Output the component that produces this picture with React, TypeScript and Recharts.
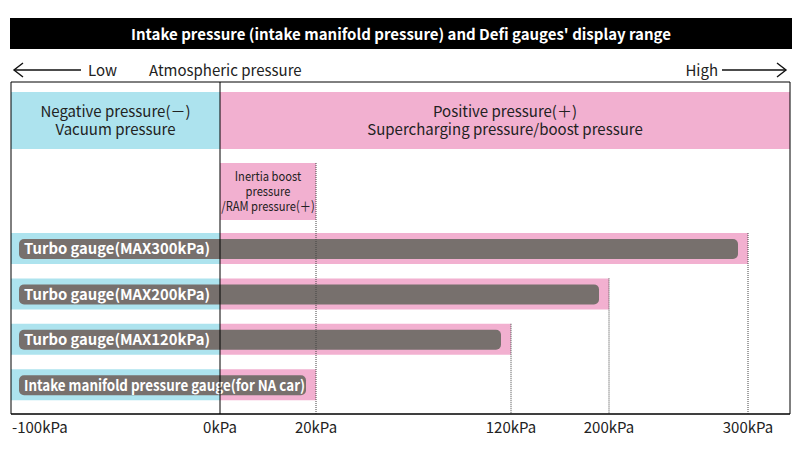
import { ComposedChart, ReferenceArea, ReferenceLine, XAxis, YAxis } from "recharts";

const FONT = '"Noto Sans CJK JP", "Noto Sans", sans-serif';
const CYAN = "#ade3ee";
const PINK = "#f2b0d0";
const GREY = "#77706d";

// the x axis is broken: each kPa stop gets its own share of the plot width
const kpaStops = [-100, 0, 20, 120, 200, 300, 330];
const axisStops = [0, 209, 305, 500, 598, 737, 779];

const tickKpa = [-100, 0, 20, 120, 200, 300];
const tickLabels = ["-100kPa", "0kPa", "20kPa", "120kPa", "200kPa", "300kPa"];

const regionLines = [
  ["Negative pressure(－)", "Vacuum pressure"],
  ["Positive pressure(＋)", "Supercharging pressure/boost pressure"],
];
const regionFrom = [-100, 0];
const regionTo = [0, 330];
const regionFill = [CYAN, PINK];

const ramLines = ["Inertia boost", "pressure", "/RAM pressure(＋)"];
const ramFrom = 0;
const ramTo = 20;

const gaugeNames = [
  "Turbo gauge(MAX300kPa)",
  "Turbo gauge(MAX200kPa)",
  "Turbo gauge(MAX120kPa)",
  "Intake manifold pressure gauge(for NA car)",
];
const gaugeMin = [-100, -100, -100, -100];
const gaugeMax = [300, 200, 120, 20];

// vertical layout of the rows (y axis units, top = 0)
const Y_MAX = 332;
const REGION_TOP = 10;
const REGION_H = 57;
const RAM_TOP = 81;
const RAM_H = 57;
const GAUGE_TOP = 151;
const GAUGE_PITCH = 45.4;
const GAUGE_H = 31;

function toAxis(kpa: number) {
  for (let i = 1; i < kpaStops.length; i++) {
    if (kpa <= kpaStops[i]) {
      const t = (kpa - kpaStops[i - 1]) / (kpaStops[i] - kpaStops[i - 1]);
      return axisStops[i - 1] + t * (axisStops[i] - axisStops[i - 1]);
    }
  }
  return axisStops[axisStops.length - 1];
}

const ticks = tickKpa.map(toAxis);

function TickLabel(props: any) {
  const { x, payload } = props;
  const i = ticks.indexOf(payload.value);
  return (
    <text
      x={i === 0 ? x + 1 : x}
      y={433}
      textAnchor={i === 0 ? "start" : "middle"}
      fontFamily={FONT}
      fontSize={15}
      fill="#222"
    >
      {tickLabels[i]}
    </text>
  );
}

function centeredLines(lines: string[], fontSize: number, lineH: number, squeeze = 1) {
  return (p: any) => {
    const cx = p.x + p.width / 2;
    const cy = p.y + p.height / 2;
    const first = cy - ((lines.length - 1) * lineH) / 2 + fontSize * 0.36;
    return (
      <g>
        <rect x={p.x} y={p.y} width={p.width} height={p.height} fill={p.fill} />
        <text
          textAnchor="middle"
          fontFamily={FONT}
          fontSize={fontSize}
          fill="#222"
          transform={`translate(${cx} 0) scale(${squeeze} 1) translate(${-cx} 0)`}
        >
          {lines.map((l, k) => (
            <tspan key={k} x={cx} y={first + k * lineH}>
              {l}
            </tspan>
          ))}
        </text>
      </g>
    );
  };
}

function gaugeShape(name: string) {
  return (p: any) => {
    const x = p.x + 8;
    const y = p.y + 6;
    const w = p.width - 18;
    const h = p.height - 11;
    const fs = 14.8;
    // rough width estimate; squeeze the label when it would run past the bar
    const tooLong = name.length * 0.47 * fs > w - 6;
    return (
      <g>
        <rect x={x} y={y} width={w} height={h} rx={5} ry={5} fill={GREY} />
        <text
          x={x + 5}
          y={y + h / 2 + 5.3}
          fontFamily={FONT}
          fontSize={fs}
          fontWeight={700}
          fill="#fff"
          textLength={tooLong ? w - 6 : undefined}
          lengthAdjust="spacingAndGlyphs"
        >
          {name}
        </text>
      </g>
    );
  };
}

// dotted guides drop from the first row that ends at a value
const guideTops = new Map<number, number>();
guideTops.set(ramTo, RAM_TOP);
gaugeMax.forEach((m, i) => {
  const top = GAUGE_TOP + i * GAUGE_PITCH;
  if (!guideTops.has(m) || (guideTops.get(m) as number) > top) guideTops.set(m, top);
});

export default function App() {
  return (
    <div style={{ position: "relative", width: 800, height: 450, background: "#fff", fontFamily: FONT }}>
      <style>{"body{margin:0}"}</style>
      <div
        style={{
          position: "absolute",
          left: 10,
          top: 18,
          width: 782,
          height: 31,
          background: "#000",
          color: "#fff",
          fontWeight: 700,
          fontSize: 15,
          lineHeight: "31px",
          textAlign: "center",
        }}
      >
        Intake pressure (intake manifold pressure) and Defi gauges' display range
      </div>
      <svg style={{ position: "absolute", left: 0, top: 0 }} width={800} height={82}>
        <g stroke="#111" strokeWidth={1.4} fill="none">
          <line x1={14} y1={70} x2={81} y2={70} />
          <polyline points="23,63 14,70 23,77" />
          <line x1={722} y1={70} x2={786} y2={70} />
          <polyline points="777,63 786,70 777,77" />
        </g>
        <g fontFamily={FONT} fontSize={15} fill="#222">
          <text x={88} y={76}>Low</text>
          <text x={149} y={76}>Atmospheric pressure</text>
          <text x={718} y={76} textAnchor="end">High</text>
        </g>
      </svg>
      <div style={{ position: "absolute", left: 0, top: 0 }}>
        <ComposedChart width={800} height={450} data={[]} margin={{ top: 82, right: 10, bottom: 6, left: 11 }}>
          <XAxis
            type="number"
            dataKey="x"
            height={30}
            domain={[0, axisStops[axisStops.length - 1]]}
            ticks={ticks}
            tick={<TickLabel />}
            tickLine={false}
            axisLine={{ stroke: "#000" }}
            interval={0}
            allowDataOverflow
          />
          <YAxis type="number" dataKey="y" domain={[0, Y_MAX]} reversed hide allowDataOverflow />

          {regionLines.map((lines, i) => (
            <ReferenceArea
              key={`r${i}`}
              x1={toAxis(regionFrom[i])}
              x2={toAxis(regionTo[i])}
              y1={REGION_TOP}
              y2={REGION_TOP + REGION_H}
              fill={regionFill[i]}
              fillOpacity={1}
              shape={centeredLines(lines, 15, 17.5)}
            />
          ))}

          <ReferenceArea
            x1={toAxis(ramFrom)}
            x2={toAxis(ramTo)}
            y1={RAM_TOP}
            y2={RAM_TOP + RAM_H}
            fill={PINK}
            fillOpacity={1}
            shape={centeredLines(ramLines, 13, 14.8, 0.86)}
          />

          {gaugeNames.map((n, i) => {
            const top = GAUGE_TOP + i * GAUGE_PITCH;
            return [
              <ReferenceArea
                key={`c${i}`}
                x1={toAxis(gaugeMin[i])}
                x2={toAxis(0)}
                y1={top}
                y2={top + GAUGE_H}
                fill={CYAN}
                fillOpacity={1}
              />,
              <ReferenceArea
                key={`p${i}`}
                x1={toAxis(0)}
                x2={toAxis(gaugeMax[i])}
                y1={top}
                y2={top + GAUGE_H}
                fill={PINK}
                fillOpacity={1}
              />,
            ];
          })}

          {Array.from(guideTops.entries()).map(([v, top]) => (
            <ReferenceLine
              key={`g${v}`}
              segment={[
                { x: toAxis(v), y: top },
                { x: toAxis(v), y: Y_MAX },
              ]}
              stroke="#444"
              strokeDasharray="1 1"
            />
          ))}

          {gaugeNames.map((n, i) => {
            const top = GAUGE_TOP + i * GAUGE_PITCH;
            return (
              <ReferenceArea
                key={`b${i}`}
                x1={toAxis(gaugeMin[i])}
                x2={toAxis(gaugeMax[i])}
                y1={top}
                y2={top + GAUGE_H}
                shape={gaugeShape(n)}
              />
            );
          })}

          <ReferenceLine x={toAxis(0)} stroke="#000" strokeWidth={1} />
          <ReferenceArea x1={0} x2={axisStops[axisStops.length - 1]} y1={0} y2={Y_MAX} fill="none" stroke="#000" strokeWidth={1} />
        </ComposedChart>
      </div>
    </div>
  );
}
